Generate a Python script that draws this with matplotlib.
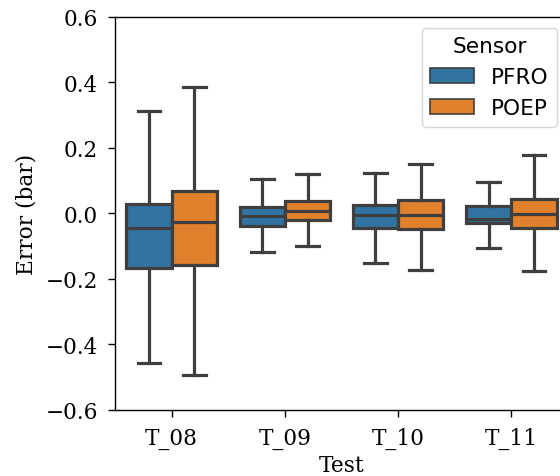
import matplotlib
matplotlib.use("Agg")
import matplotlib.pyplot as plt
from matplotlib.patches import Patch
import numpy as np

tests = ["T_08", "T_09", "T_10", "T_11"]
sensors = ["PFRO", "POEP"]
colors = ["#3274a1", "#e1812c"]

# box stats: whisker low, Q1, median, Q3, whisker high
pfro_low = [-0.456, -0.118, -0.151, -0.105]
pfro_q1 = [-0.166, -0.037, -0.045, -0.029]
pfro_med = [-0.044, -0.009, -0.006, -0.016]
pfro_q3 = [0.029, 0.019, 0.027, 0.024]
pfro_high = [0.313, 0.105, 0.123, 0.097]

poep_low = [-0.492, -0.100, -0.172, -0.175]
poep_q1 = [-0.156, -0.020, -0.046, -0.045]
poep_med = [-0.025, 0.007, -0.004, -0.003]
poep_q3 = [0.070, 0.039, 0.040, 0.043]
poep_high = [0.385, 0.121, 0.152, 0.180]

plt.rcParams['font.family'] = 'DejaVu Serif'
plt.rcParams['font.size'] = 15.6

fig = plt.figure(figsize=(5.6, 4.77), dpi=100)
ax = fig.add_axes([0.2054, 0.1384, 0.8089, 0.8239])

gray = "#3f3f3f"
lw = 2.3
series = [
    (pfro_low, pfro_q1, pfro_med, pfro_q3, pfro_high),
    (poep_low, poep_q1, poep_med, poep_q3, poep_high),
]
for j, (lo, q1, med, q3, hi) in enumerate(series):
    stats = []
    for i in range(len(tests)):
        stats.append(dict(whislo=lo[i], q1=q1[i], med=med[i], q3=q3[i],
                          whishi=hi[i], fliers=[]))
    pos = np.arange(len(tests)) - 0.2 + 0.4 * j
    ax.bxp(stats, positions=pos, widths=0.4, patch_artist=True,
           showfliers=False, manage_ticks=False,
           boxprops=dict(facecolor=colors[j], edgecolor=gray, linewidth=lw),
           medianprops=dict(color=gray, linewidth=lw),
           whiskerprops=dict(color=gray, linewidth=lw),
           capprops=dict(color=gray, linewidth=lw))

ax.set_xlim(-0.5, len(tests) - 0.5)
ax.set_ylim(-0.6, 0.6)
ax.set_xticks(range(len(tests)))
ax.set_xticklabels(tests)
ax.set_yticks(np.arange(-0.6, 0.61, 0.2))
ax.set_yticklabels(["\u22120.6", "\u22120.4", "\u22120.2", "0.0", "0.2", "0.4", "0.6"])
ax.set_xlabel("Test", labelpad=4)
ax.set_ylabel("Error (bar)", labelpad=6)
for s in ax.spines.values():
    s.set_linewidth(1.0)
ax.tick_params(width=1.0, length=5, pad=7)

handles = [Patch(facecolor=c, edgecolor=gray, linewidth=1.2) for c in colors]
leg = ax.legend(handles, sensors, title="Sensor", loc="upper right",
                prop={'family': 'DejaVu Sans', 'size': 15.6})
leg.get_title().set_family('DejaVu Sans')
leg.get_title().set_fontsize(15.6)

fig.savefig("out.png", dpi=100)
